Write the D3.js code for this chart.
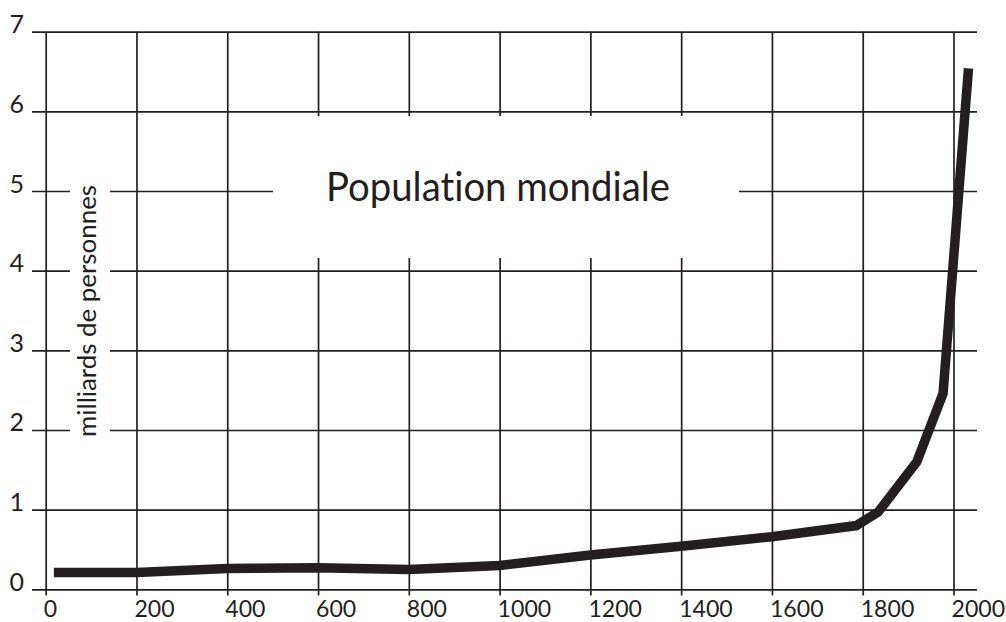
<!DOCTYPE html>
<html>
<head>
<meta charset="utf-8">
<script src="https://cdn.jsdelivr.net/npm/d3@7"></script>
<style>
  html, body { margin: 0; padding: 0; background: #fff; }
  svg { display: block; }
  text { font-family: Lato, "Open Sans", sans-serif; fill: #231f20; font-variant-ligatures: none; font-feature-settings: "liga" 0, "clig" 0; }
</style>
</head>
<body>
<svg id="chart" width="1006" height="622"></svg>
<script>
// Data
const years  = [18, 200, 400, 600, 800, 1000, 1200, 1400, 1600, 1786, 1834, 1919, 1977, 2033];
const population = [0.21, 0.21, 0.26, 0.27, 0.25, 0.30, 0.43, 0.54, 0.66, 0.80, 0.97, 1.60, 2.46, 6.54];
const xTicks = [0, 200, 400, 600, 800, 1000, 1200, 1400, 1600, 1800, 2000];
const yTicks = [0, 1, 2, 3, 4, 5, 6, 7];
const title = "Population mondiale";
const yLabel = "milliards de personnes";

const ink = "#231f20";
const svg = d3.select("#chart");

const x = d3.scaleLinear().domain([0, 2000]).range([45.7, 953.5]);
const y = d3.scaleLinear().domain([0, 7]).range([589.3, 31.7]);

const gridLeft = 32, gridRight = 977, gridBottom = 595.5;

// horizontal grid lines
const gy = svg.append("g")
  .attr("transform", `translate(${gridLeft},0)`)
  .call(d3.axisLeft(y).tickValues(yTicks).tickSize(-(gridRight - gridLeft)).tickFormat(""));
gy.select(".domain").remove();
gy.selectAll(".tick line").attr("stroke", ink).attr("stroke-width", 1.7);

// vertical grid lines
const gx = svg.append("g")
  .attr("transform", `translate(0,${gridBottom})`)
  .call(d3.axisBottom(x).tickValues(xTicks).tickSize(-(gridBottom - y(7))).tickFormat(""));
gx.select(".domain").remove();
gx.selectAll(".tick line").attr("stroke", ink).attr("stroke-width", 1.7);

// white boxes masking the grid behind texts
svg.append("rect").attr("x", 273).attr("y", 116).attr("width", 466).attr("height", 142).attr("fill", "#fff");
svg.append("rect").attr("x", 70).attr("y", 175).attr("width", 40).attr("height", 272).attr("fill", "#fff");

// tick labels
svg.append("g").selectAll("text").data(yTicks).join("text")
  .attr("x", 24).attr("y", d => y(d) + 1.5)
  .attr("text-anchor", "end")
  .attr("font-size", 25)
  .text(d => d);

svg.append("g").selectAll("text").data(xTicks).join("text")
  .attr("x", d => x(d) - 2).attr("y", 617)
  .attr("text-anchor", "start")
  .attr("font-size", 23)
  .attr("textLength", d => String(d).length * 13.4)
  .attr("lengthAdjust", "spacingAndGlyphs")
  .text(d => d);

// title
svg.append("text")
  .attr("x", 326).attr("y", 201)
  .attr("font-size", 41)
  .attr("textLength", 344).attr("lengthAdjust", "spacingAndGlyphs")
  .text(title);

// y label
svg.append("text")
  .attr("transform", "translate(96,311) rotate(-90)")
  .attr("text-anchor", "middle")
  .attr("font-size", 25)
  .attr("textLength", 252).attr("lengthAdjust", "spacingAndGlyphs")
  .text(yLabel);

// data line
const line = d3.line().x((d, i) => x(years[i])).y(d => y(d));
svg.append("path")
  .datum(population)
  .attr("d", line)
  .attr("fill", "none")
  .attr("stroke", ink)
  .attr("stroke-width", 9.5)
  .attr("stroke-linejoin", "miter")
  .attr("stroke-linecap", "butt");
</script>
</body>
</html>
